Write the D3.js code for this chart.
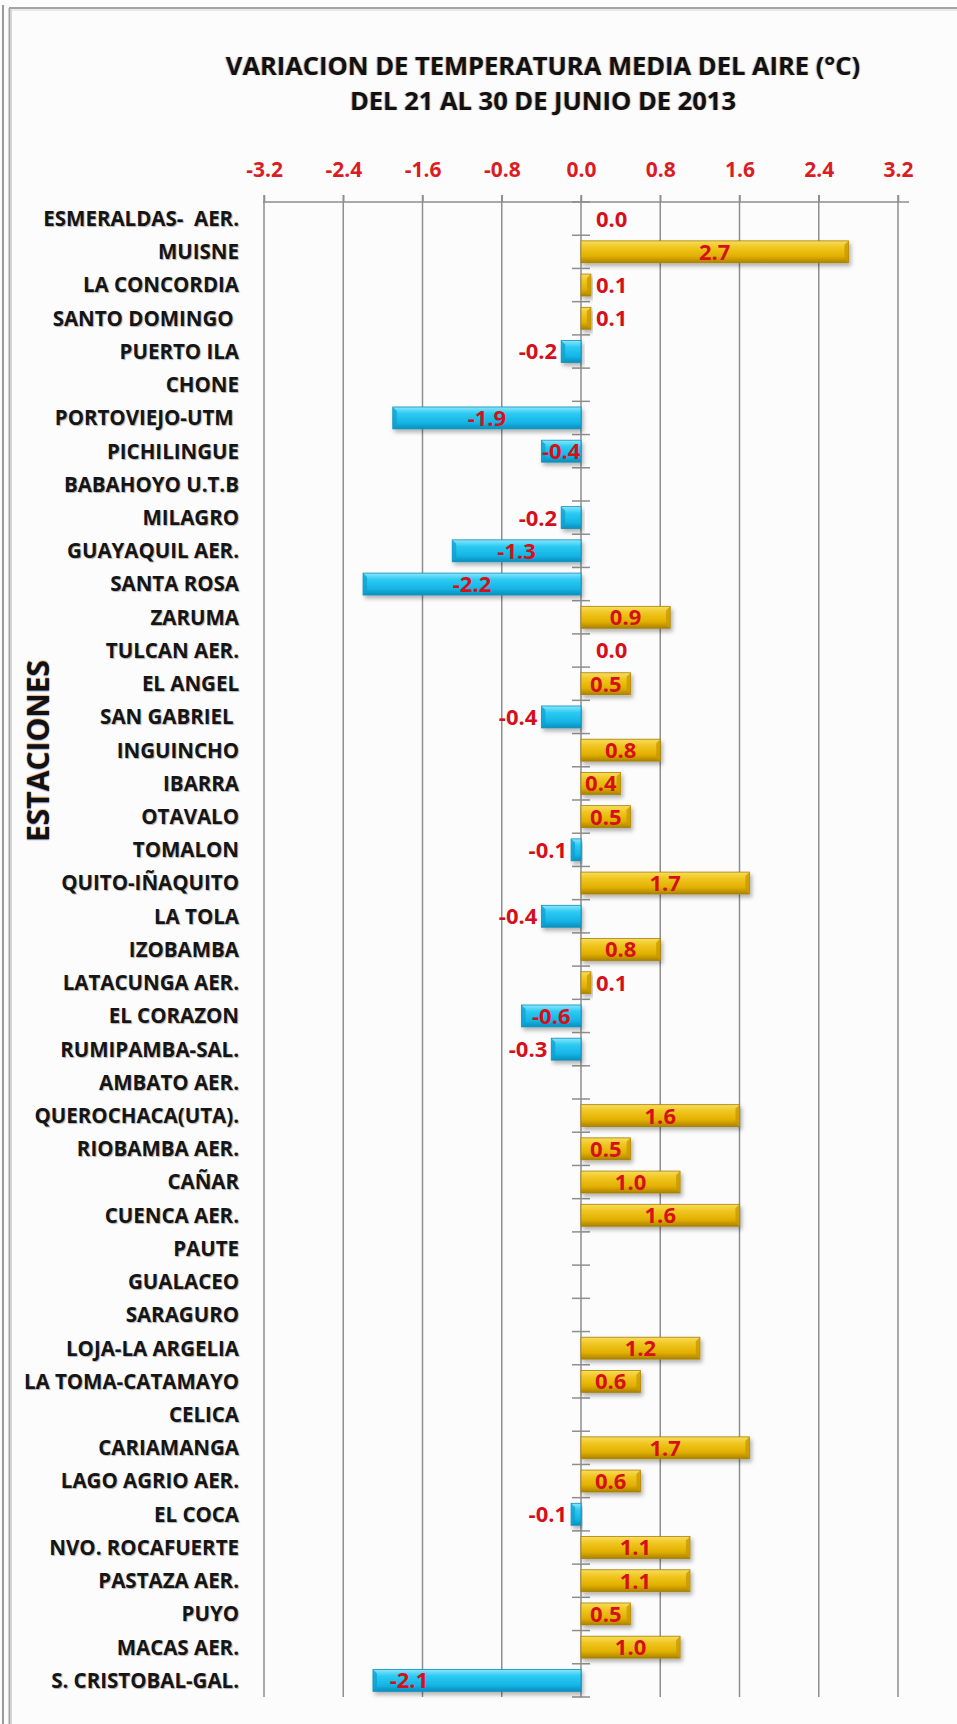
<!DOCTYPE html>
<html>
<head>
<meta charset="utf-8">
<script src="https://cdn.jsdelivr.net/npm/d3@7"></script>
<style>
  body{ margin:0; background:#fcfcfc; }
  svg text{ font-family:"Open Sans", "DejaVu Sans", sans-serif; font-weight:700; white-space:pre; }
  .cat-label{ fill:#151515; text-shadow:1px 1px 1px rgba(0,0,0,0.3); }
  .tick-label{ fill:#dc1c24; }
  .data-label{ fill:#d6101a; }
</style>
</head>
<body>
<svg id="chart" width="957" height="1724"></svg>
<script>
var stations = [ "ESMERALDAS-  AER.", "MUISNE", "LA CONCORDIA", "SANTO DOMINGO ", "PUERTO ILA", "CHONE",
  "PORTOVIEJO-UTM ", "PICHILINGUE", "BABAHOYO U.T.B", "MILAGRO", "GUAYAQUIL AER.", "SANTA ROSA",
  "ZARUMA", "TULCAN AER.", "EL ANGEL", "SAN GABRIEL ", "INGUINCHO", "IBARRA", "OTAVALO", "TOMALON",
  "QUITO-IÑAQUITO", "LA TOLA", "IZOBAMBA", "LATACUNGA AER.", "EL CORAZON", "RUMIPAMBA-SAL.",
  "AMBATO AER.", "QUEROCHACA(UTA).", "RIOBAMBA AER.", "CAÑAR", "CUENCA AER.", "PAUTE", "GUALACEO",
  "SARAGURO", "LOJA-LA ARGELIA", "LA TOMA-CATAMAYO", "CELICA", "CARIAMANGA", "LAGO AGRIO AER.",
  "EL COCA", "NVO. ROCAFUERTE", "PASTAZA AER.", "PUYO", "MACAS AER.", "S. CRISTOBAL-GAL." ];

var values = [ 0.0, 2.7, 0.1, 0.1, -0.2, null, -1.9, -0.4, null, -0.2, -1.3, -2.2,
  0.9, 0.0, 0.5, -0.4, 0.8, 0.4, 0.5, -0.1, 1.7, -0.4, 0.8, 0.1, -0.6, -0.3,
  null, 1.6, 0.5, 1.0, 1.6, null, null, null, 1.2, 0.6, null, 1.7, 0.6,
  -0.1, 1.1, 1.1, 0.5, 1.0, -2.1 ];

// o = outside end, c = centre, e = inside end
var labelPos = [ "o", "c", "o", "o", "o", null, "c", "c", null, "o", "c", "c",
  "c", "o", "c", "o", "c", "c", "c", "o", "c", "o", "c", "o", "c", "o",
  null, "c", "c", "c", "c", null, null, null, "c", "c", null, "c", "c",
  "o", "c", "c", "c", "c", "e" ];

var xTicks = [ -3.2, -2.4, -1.6, -0.8, 0.0, 0.8, 1.6, 2.4, 3.2 ];

var titleLines = [ "VARIACION DE TEMPERATURA MEDIA DEL AIRE (°C)", "DEL 21 AL 30 DE JUNIO DE 2013" ];

var MARGIN = { left: 264, right: 898, top: 202, bottom: 1697 };

var svg = d3.select( "#chart" );

var rows = stations.map( function( name, i ){
  return { name: name, value: values[ i ], pos: labelPos[ i ], index: i };
});

function fmt( v ){ return v.toFixed( 1 ); }

var x = d3.scaleLinear().domain( [ -3.2, 3.2 ] ).range( [ MARGIN.left, MARGIN.right ] );
var y = d3.scaleBand().domain( stations ).range( [ MARGIN.top, MARGIN.bottom ] ).paddingInner( 0.34 ).paddingOuter( 0.17 );
var band = ( MARGIN.bottom - MARGIN.top ) / stations.length;

// frame
var frame = svg.append( "g" );
frame.append( "line" ).attr( "x1", 3 ).attr( "y1", 5 ).attr( "x2", 3 ).attr( "y2", 1724 ).attr( "stroke", "#9a9a9a" ).attr( "stroke-width", 2 );
frame.append( "line" ).attr( "x1", 9.5 ).attr( "y1", 8 ).attr( "x2", 9.5 ).attr( "y2", 1724 ).attr( "stroke", "#a4a4a4" ).attr( "stroke-width", 2 );
frame.append( "line" ).attr( "x1", 11.5 ).attr( "y1", 10 ).attr( "x2", 11.5 ).attr( "y2", 1724 ).attr( "stroke", "#d6d6d6" ).attr( "stroke-width", 1 );
frame.append( "line" ).attr( "x1", 9 ).attr( "y1", 8 ).attr( "x2", 957 ).attr( "y2", 8 ).attr( "stroke", "#a4a4a4" ).attr( "stroke-width", 2 );
frame.append( "line" ).attr( "x1", 11 ).attr( "y1", 10 ).attr( "x2", 957 ).attr( "y2", 10 ).attr( "stroke", "#d6d6d6" ).attr( "stroke-width", 1 );

// gradients and shadow
var defs = svg.append( "defs" );
function addGradient( id, stops ){
  var g = defs.append( "linearGradient" ).attr( "id", id ).attr( "x1", 0 ).attr( "y1", 0 ).attr( "x2", 0 ).attr( "y2", 1 );
  stops.forEach( function( s ){
    g.append( "stop" ).attr( "offset", s[ 0 ] ).attr( "stop-color", s[ 1 ] );
  });
}
addGradient( "gold", [ [ "0%", "#f8dc5e" ], [ "30%", "#f0c620" ], [ "70%", "#e2b000" ], [ "100%", "#ab8200" ] ] );
addGradient( "blue", [ [ "0%", "#8ce6fb" ], [ "30%", "#2ccaf2" ], [ "70%", "#16b6e6" ], [ "100%", "#0a8fbc" ] ] );

defs.append( "filter" ).attr( "id", "shadow" ).attr( "x", "-10%" ).attr( "y", "-30%" ).attr( "width", "130%" ).attr( "height", "180%" )
  .append( "feDropShadow" ).attr( "dx", 2 ).attr( "dy", 3 ).attr( "stdDeviation", 2 ).attr( "flood-color", "#000" ).attr( "flood-opacity", 0.3 );

// title
svg.append( "g" ).selectAll( "text" ).data( titleLines ).join( "text" )
  .attr( "x", 543 )
  .attr( "y", function( d, i ){ return 66 + i * 35; } )
  .attr( "dy", "0.35em" )
  .attr( "text-anchor", "middle" )
  .attr( "font-size", 25.5 )
  .attr( "fill", "#111" )
  .style( "text-shadow", "1px 0 1px rgba(230,120,0,0.35), -1px 0 1px rgba(40,60,200,0.3)" )
  .text( function( d ){ return d; } );

// gridlines
svg.append( "g" ).selectAll( "line" ).data( xTicks ).join( "line" )
  .attr( "x1", function( d ){ return x( d ); } )
  .attr( "x2", function( d ){ return x( d ); } )
  .attr( "y1", MARGIN.top - 7 )
  .attr( "y2", MARGIN.bottom )
  .attr( "stroke", "#8e8e8e" )
  .attr( "stroke-width", 1.5 );

// top axis
var axis = svg.append( "g" ).attr( "transform", "translate(0," + MARGIN.top + ")" )
  .call( d3.axisTop( x ).tickValues( xTicks ).tickFormat( fmt ).tickSize( 7 ).tickPadding( 18 ) );
axis.select( ".domain" ).attr( "d", "M" + ( MARGIN.left - 1 ) + ",0H" + ( MARGIN.right + 11 ) ).attr( "stroke", "#8e8e8e" ).attr( "stroke-width", 1.5 );
axis.selectAll( ".tick line" ).attr( "stroke", "#8e8e8e" ).attr( "stroke-width", 1.5 );
axis.selectAll( ".tick text" ).attr( "class", "tick-label" ).attr( "font-size", 21 ).attr( "font-family", null ).attr( "fill", null );

// category ticks crossing the zero line
var bounds = d3.range( stations.length + 1 );
svg.append( "g" ).selectAll( "line" ).data( bounds ).join( "line" )
  .attr( "x1", x( 0 ) - 9 )
  .attr( "x2", x( 0 ) + 9 )
  .attr( "y1", function( d ){ return MARGIN.top + d * band; } )
  .attr( "y2", function( d ){ return MARGIN.top + d * band; } )
  .attr( "stroke", "#8e8e8e" )
  .attr( "stroke-width", 1.5 );

// category labels
svg.append( "g" ).selectAll( "text" ).data( rows ).join( "text" )
  .attr( "class", "cat-label" )
  .attr( "x", 239 )
  .attr( "y", function( d ){ return y( d.name ) + y.bandwidth() / 2; } )
  .attr( "dy", "0.36em" )
  .attr( "text-anchor", "end" )
  .attr( "font-size", 20.5 )
  .text( function( d ){ return d.name; } );

// axis title
svg.append( "text" )
  .attr( "transform", "translate(38,751) rotate(-90)" )
  .attr( "dy", "0.36em" )
  .attr( "text-anchor", "middle" )
  .attr( "font-size", 30 )
  .attr( "fill", "#111" )
  .style( "text-shadow", "1px 0 1px rgba(230,120,0,0.5), -1px 0 1px rgba(40,60,200,0.4)" )
  .text( "ESTACIONES" );

// bars
var barRows = rows.filter( function( d ){ return d.value !== null && d.value !== 0; } );
var bars = svg.append( "g" ).selectAll( "g" ).data( barRows ).join( "g" ).attr( "filter", "url(#shadow)" );

bars.append( "rect" )
  .attr( "x", function( d ){ return Math.min( x( 0 ), x( d.value ) ); } )
  .attr( "y", function( d ){ return y( d.name ); } )
  .attr( "width", function( d ){ return Math.abs( x( d.value ) - x( 0 ) ); } )
  .attr( "height", y.bandwidth() )
  .attr( "fill", function( d ){ return d.value > 0 ? "url(#gold)" : "url(#blue)"; } )
  .attr( "stroke", function( d ){ return d.value > 0 ? "#a88000" : "#0c90bd"; } )
  .attr( "stroke-width", 0.8 );

// bevel at the bar ends
bars.append( "path" )
  .attr( "d", function( d ){
    var x0 = x( d.value ), y0 = y( d.name ), h = y.bandwidth();
    var s = d.value > 0 ? -1 : 1;
    var w = Math.min( 4, Math.abs( x( d.value ) - x( 0 ) ) / 2 );
    return "M" + x0 + "," + y0 + "L" + ( x0 + s * w ) + "," + ( y0 + 4 ) + "L" + ( x0 + s * w ) + "," + ( y0 + h - 4 ) + "L" + x0 + "," + ( y0 + h ) + "Z";
  })
  .attr( "fill", function( d ){ return d.value > 0 ? "#c99a00" : "#0fa2d2"; } )
  .attr( "opacity", 0.8 );

// data labels
var labelRows = rows.filter( function( d ){ return d.value !== null; } );
svg.append( "g" ).selectAll( "text" ).data( labelRows ).join( "text" )
  .attr( "class", "data-label" )
  .attr( "font-size", 22 )
  .attr( "y", function( d ){ return y( d.name ) + y.bandwidth() / 2; } )
  .attr( "dy", "0.36em" )
  .attr( "x", function( d ){
    if( d.pos == "c" ) return ( x( 0 ) + x( d.value ) ) / 2;
    if( d.pos == "e" ) return x( d.value ) + 36;
    if( d.value < 0 ) return x( d.value ) - 4;
    return Math.max( x( d.value ), x( 0 ) + 10 ) + 5;
  })
  .attr( "text-anchor", function( d ){
    if( d.pos == "c" || d.pos == "e" ) return "middle";
    return d.value < 0 ? "end" : "start";
  })
  .text( function( d ){ return fmt( d.value ); } );
</script>
</body>
</html>
